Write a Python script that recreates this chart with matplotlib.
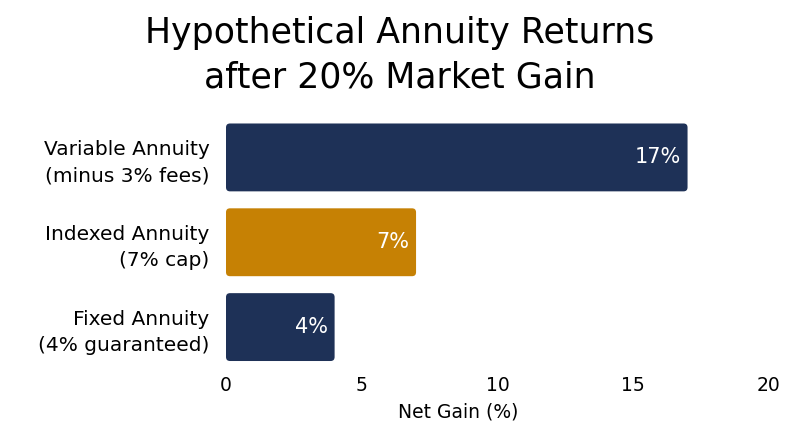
import matplotlib
matplotlib.use("Agg")
import matplotlib.pyplot as plt
from matplotlib.patches import FancyBboxPatch

categories = ["Variable Annuity\n(minus 3% fees)", "Indexed Annuity\n(7% cap)", "Fixed Annuity\n(4% guaranteed)"]
values = [17, 7, 4]
labels = ["17%", "7%", "4%"]
colors = ["#1e3157", "#c68104", "#1e3157"]
xticks = [0, 5, 10, 15, 20]

plt.rcParams['font.family'] = ['DejaVu Sans']
fig = plt.figure(figsize=(8, 4.47), dpi=100)
ax = fig.add_axes([226/800, 1-369.5/447, (769-226)/800, (369.5-115)/447])

ypos = list(range(len(values)))
bars = ax.barh(ypos, values, height=0.8, color=colors)
ax.set_ylim(2.5, -0.5)
ax.set_xlim(0, 20)

# rounded corners
px_x = (769-226)/20
px_y = (369.5-115)/3
r = 4/px_x
for b, c in zip(bars, colors):
    x0, y0 = b.get_x(), b.get_y()
    w, h = b.get_width(), b.get_height()
    b.set_visible(False)
    p = FancyBboxPatch((x0, y0), w, h, boxstyle=f"round,pad=0,rounding_size={r}",
                       mutation_aspect=px_x/px_y, facecolor=c, edgecolor='none', clip_on=False)
    ax.add_patch(p)

for y, v, lab in zip(ypos, values, labels):
    ax.text(v - 0.26, y, lab, ha='right', va='center', color='white', fontsize=15)

ax.set_yticks(ypos)
ax.set_yticklabels(categories, fontsize=14.5, ha='right', multialignment='right', linespacing=1.45)
ax.tick_params(axis='y', length=0, pad=12)
ax.set_xticks(xticks)
ax.set_xticklabels([str(t) for t in xticks], fontsize=13.5)
ax.tick_params(axis='x', length=0, pad=5)
ax.set_xlabel("Net Gain (%)", fontsize=13.5)
ax.xaxis.set_label_coords((458-226)/(769-226), (369.5-412)/(369.5-115))
ax.xaxis.label.set_va('center')
for s in ax.spines.values():
    s.set_visible(False)

fig.text(0.5, 1-55/447, "Hypothetical Annuity Returns\nafter 20% Market Gain", ha='center', va='center',
         fontsize=25, linespacing=1.4)

fig.savefig("out.png", dpi=100, facecolor='white')
